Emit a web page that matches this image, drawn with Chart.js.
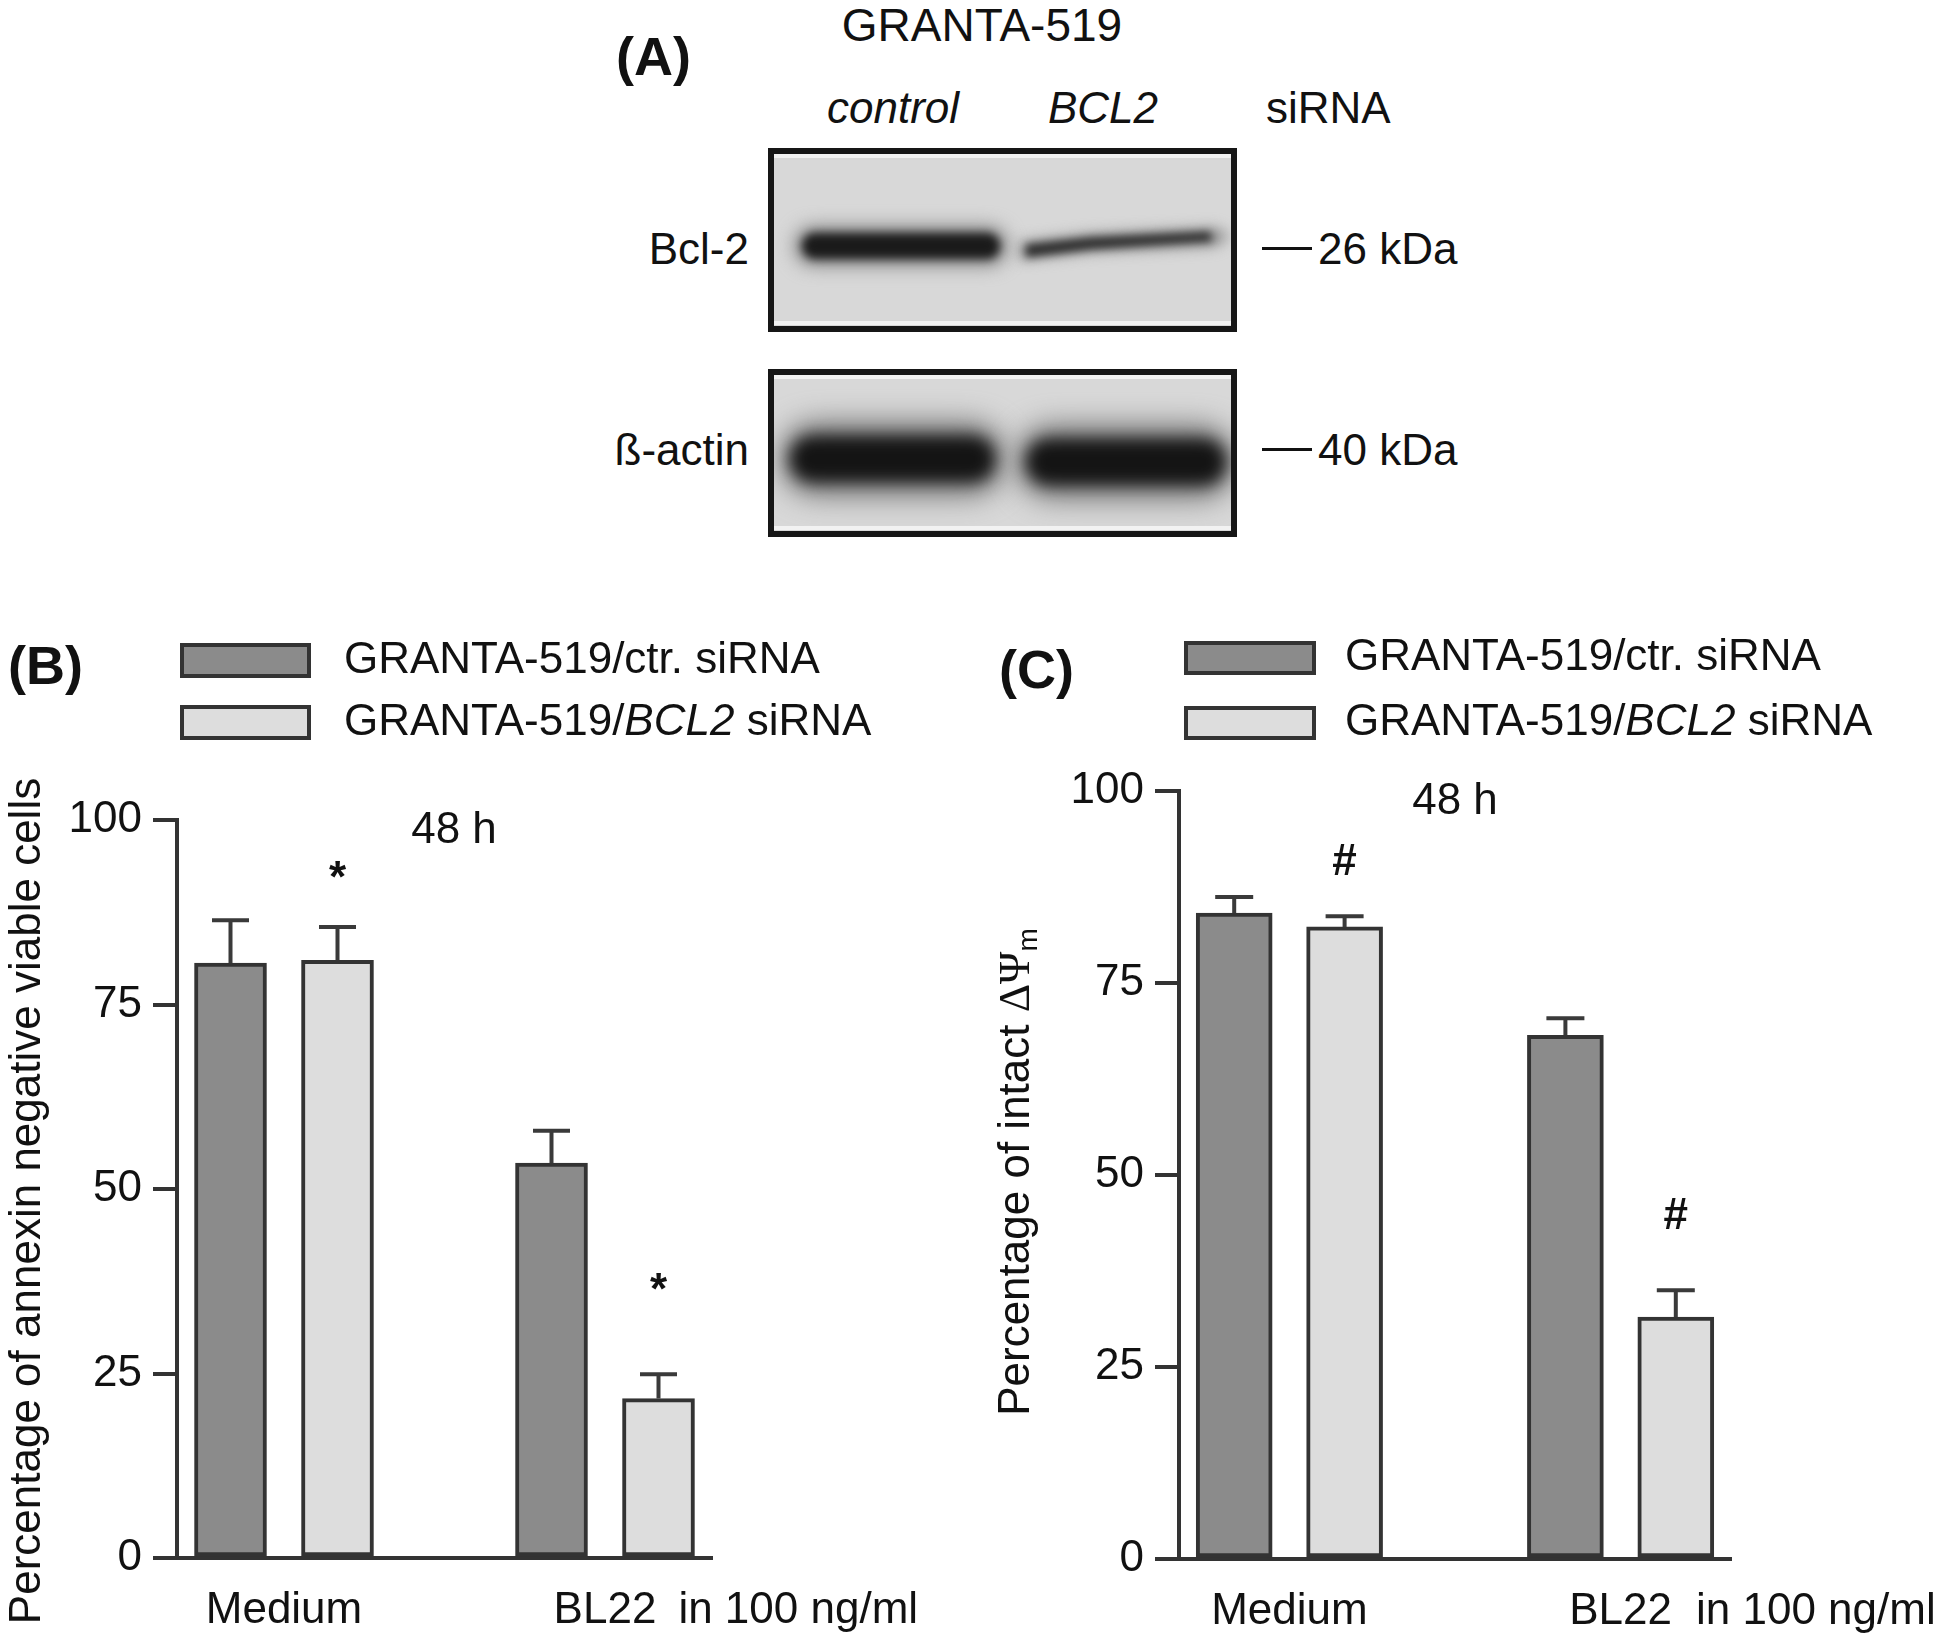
<!DOCTYPE html>
<html>
<head>
<meta charset="utf-8">
<script src="https://cdn.jsdelivr.net/npm/chart.js@4.4.1/dist/chart.umd.min.js"></script>
<style>
  html, body { margin: 0; padding: 0; background: #fff; }
  #page { position: relative; width: 1950px; height: 1637px; overflow: hidden;
          font-family: "Liberation Sans", Arial, sans-serif; color: #111; }
  .t { position: absolute; white-space: nowrap; line-height: 1; font-size: 44px;
       transform: translateY(-50%); }
  .c { transform: translate(-50%, -50%); }
  .r { transform: translate(-100%, -50%); }
  .i { font-style: italic; }
  .b { font-weight: bold; }
  .mk { position: absolute; height: 3px; background: #111; }
  canvas { position: absolute; }
</style>
</head>
<body>
<div id="page">
  <!-- (A) western blot -->
  <div class="t b" style="left:616px;top:56px;font-size:54px">(A)</div>
  <div class="t c" style="left:982px;top:25px;font-size:46px">GRANTA-519</div>
  <div class="t i" style="left:827px;top:108px">control</div>
  <div class="t i" style="left:1048px;top:108px">BCL2</div>
  <div class="t" style="left:1266px;top:108px">siRNA</div>
  <div class="t r" style="left:749px;top:249px">Bcl-2</div>
  <div class="t r" style="left:749px;top:450px">ß-actin</div>
  <div class="mk" style="left:1262px;top:247px;width:50px"></div>
  <div class="t" style="left:1318px;top:249px">26 kDa</div>
  <div class="mk" style="left:1262px;top:448px;width:50px"></div>
  <div class="t" style="left:1318px;top:450px">40 kDa</div>
  <canvas id="blot" width="490" height="405" style="left:760px;top:140px"></canvas>

  <!-- (B) and (C) -->
  <canvas id="chartB" width="975" height="1037" style="left:0;top:600px;width:975px;height:1037px"></canvas>
  <canvas id="chartC" width="975" height="1037" style="left:975px;top:600px;width:975px;height:1037px"></canvas>
</div>

<script>
// ---- data ----
const categories = ['Medium', 'BL22'];
const doseNote   = 'in 100 ng/ml';
const yTicks     = [0, 25, 50, 75, 100];
// legend labels, [text, italic] pieces
const seriesNames = [
  [['GRANTA-519/ctr. siRNA', false]],
  [['GRANTA-519/', false], ['BCL2', true], [' siRNA', false]]
];
const barColors = ['#8b8b8b', '#dddddd'];

// (B) annexin negative viable cells, 48 h
const annexinCtr     = [80.6, 53.5];
const annexinCtrErr  = [5.8, 4.4];
const annexinBcl2    = [81.0, 21.6];
const annexinBcl2Err = [4.5, 3.3];
const annexinMarks   = ['*', '*'];
const annexinMarkAt  = [91.9, 36.0];

// (C) intact mitochondrial potential, 48 h
const psiCtr     = [84.1, 68.2];
const psiCtrErr  = [2.1, 2.2];
const psiBcl2    = [82.3, 31.5];
const psiBcl2Err = [1.4, 3.5];
const psiMarks   = ['#', '#'];
const psiMarkAt  = [90.6, 44.5];

// ---- drawing ----
const SANS  = '"Liberation Sans", Arial, sans-serif';
const SERIF = '"Liberation Serif", "Times New Roman", serif';
const INK   = '#111';
const LINE  = '#333';
const W = 975, H = 1037;
const GROUP_STEP = 3, BAR_SHIFT = 0.5;   // bars sit half a slot either side of the group centre
const groupX = i => 1 + GROUP_STEP * i;

function drawRotated(ctx, segs, cx, cy) {
  ctx.save();
  ctx.translate(cx, cy);
  ctx.rotate(-Math.PI / 2);
  ctx.textBaseline = 'middle';
  ctx.textAlign = 'left';
  ctx.fillStyle = INK;
  let total = 0;
  segs.forEach(s => { ctx.font = s.font; s.w = ctx.measureText(s.text).width; total += s.w; });
  let x = -total / 2;
  segs.forEach(s => { ctx.font = s.font; ctx.fillText(s.text, x, s.dy || 0); x += s.w; });
  ctx.restore();
}

const decor = {
  id: 'decor',
  afterDatasetsDraw(chart, args, o) {
    const ctx = chart.ctx, ys = chart.scales.y;
    ctx.save();
    chart.data.datasets.forEach((ds, di) => {
      chart.getDatasetMeta(di).data.forEach((bar, i) => {
        const top = ys.getPixelForValue(ds.data[i].y + ds.errors[i]);
        ctx.strokeStyle = '#3a3a3a';
        ctx.lineWidth = 4;
        ctx.beginPath();
        ctx.moveTo(bar.x, bar.y);
        ctx.lineTo(bar.x, top);
        ctx.moveTo(bar.x - o.cap / 2, top);
        ctx.lineTo(bar.x + o.cap / 2, top);
        ctx.stroke();
        if (ds.marks && ds.marks[i]) {
          ctx.fillStyle = INK;
          ctx.font = 'bold 44px ' + SANS;
          ctx.textAlign = 'center';
          ctx.textBaseline = 'middle';
          ctx.fillText(ds.marks[i], bar.x, ys.getPixelForValue(ds.markAt[i]) + o.markDy);
        }
      });
    });
    ctx.restore();
  },
  afterDraw(chart, args, o) {
    const ctx = chart.ctx;
    ctx.save();
    ctx.fillStyle = INK;

    // panel letter
    ctx.font = 'bold 54px ' + SANS;
    ctx.textBaseline = 'middle';
    ctx.textAlign = 'left';
    ctx.fillText(o.letter, o.letterAt[0], o.letterAt[1]);

    // legend
    chart.data.datasets.forEach((ds, di) => {
      const L = o.legend, y = L.y[di];
      ctx.fillStyle = ds.backgroundColor;
      ctx.fillRect(L.x, y, L.w, L.h);
      ctx.strokeStyle = LINE;
      ctx.lineWidth = 4;
      ctx.strokeRect(L.x + 2, y + 2, L.w - 4, L.h - 4);
      let tx = L.textX;
      ctx.fillStyle = INK;
      seriesNames[di].forEach(([txt, it]) => {
        ctx.font = (it ? 'italic ' : '') + '44px ' + SANS;
        ctx.fillText(txt, tx, y + L.h / 2);
        tx += ctx.measureText(txt).width;
      });
    });

    // time point
    ctx.font = '44px ' + SANS;
    ctx.textAlign = 'center';
    ctx.fillText(o.time, o.timeAt[0], o.timeAt[1]);

    // dose note after the last category label
    const xs = chart.scales.x;
    const items = xs.getLabelItems();
    const last = items[items.length - 1];
    if (last) {
      ctx.font = '44px ' + SANS;
      const lw = ctx.measureText(categories[categories.length - 1]).width;
      ctx.textAlign = 'left';
      ctx.textBaseline = last.options.textBaseline;
      ctx.fillText(doseNote, last.options.translation[0] + lw / 2 + o.noteGap,
                   last.options.translation[1] + (last.textOffset || 0));
    }
    ctx.restore();

    drawRotated(ctx, o.title, o.titleAt[0], o.titleAt[1]);
  }
};

function makePanel(id, p) {
  const datasets = [
    { data: p.ctr.map((v, i) => ({ x: groupX(i) - BAR_SHIFT, y: v })), errors: p.ctrErr,
      backgroundColor: barColors[0] },
    { data: p.bcl2.map((v, i) => ({ x: groupX(i) + BAR_SHIFT, y: v })), errors: p.bcl2Err,
      marks: p.marks, markAt: p.markAt, backgroundColor: barColors[1] }
  ];
  const tickFont = { family: SANS, size: 44 };
  return new Chart(document.getElementById(id), {
    type: 'bar',
    data: { datasets },
    options: {
      responsive: false,
      animation: false,
      devicePixelRatio: 1,
      layout: { padding: { left: 0, top: p.area.top, right: W - p.area.right, bottom: 0 } },
      datasets: { bar: { grouped: false, barThickness: p.barW, borderWidth: 4,
                         borderColor: LINE, borderSkipped: false } },
      plugins: {
        legend: { display: false },
        tooltip: { enabled: false },
        decor: p.decor
      },
      scales: {
        x: {
          type: 'linear', min: 0, max: 5, offset: false, bounds: 'data', grace: 0,
          afterDataLimits: s => { s.min = 0; s.max = 5; },
          afterFit: s => { s.height = H - p.area.bottom; },
          afterBuildTicks: s => { s.ticks = categories.map((c, i) => ({ value: groupX(i) })); },
          grid: { display: false, offset: false },
          border: { display: true, width: 4, color: LINE },
          ticks: { callback: (v, i) => categories[i], font: tickFont, color: INK,
                   padding: 18, autoSkip: false, maxRotation: 0 }
        },
        y: {
          min: 0, max: 100,
          afterFit: s => { s.width = p.area.left; },
          afterBuildTicks: s => { s.ticks = yTicks.map(v => ({ value: v })); },
          grid: { drawOnChartArea: false, tickLength: 24, lineWidth: 4, color: LINE },
          border: { display: true, width: 4, color: LINE },
          ticks: { font: tickFont, color: INK, padding: 11 }
        }
      }
    },
    plugins: [decor]
  });
}

makePanel('chartB', {
  ctr: annexinCtr, ctrErr: annexinCtrErr, bcl2: annexinBcl2, bcl2Err: annexinBcl2Err,
  marks: annexinMarks, markAt: annexinMarkAt,
  area: { left: 177, top: 220, right: 712, bottom: 958 },
  barW: 72,
  decor: {
    cap: 37, markDy: 0,
    letter: '(B)', letterAt: [8, 69],
    legend: { x: 180, y: [43, 105], w: 131, h: 35, textX: 344 },
    time: '48 h', timeAt: [454, 231],
    noteGap: 22,
    title: [{ text: 'Percentage of annexin negative viable cells', font: '44px ' + SANS }],
    titleAt: [28, 601]
  }
});

makePanel('chartC', {
  ctr: psiCtr, ctrErr: psiCtrErr, bcl2: psiBcl2, bcl2Err: psiBcl2Err,
  marks: psiMarks, markAt: psiMarkAt,
  area: { left: 204, top: 191, right: 756, bottom: 959 },
  barW: 76,
  decor: {
    cap: 38, markDy: 0,
    letter: '(C)', letterAt: [24, 73],
    legend: { x: 209, y: [41, 106], w: 132, h: 34, textX: 370 },
    time: '48 h', timeAt: [480, 202],
    noteGap: 24,
    title: [
      { text: 'Percentage of intact ', font: '44px ' + SANS },
      { text: 'ΔΨ', font: '44px ' + SERIF },
      { text: 'm', font: '28px ' + SANS, dy: 12 }
    ],
    titleAt: [42, 572]
  }
});

// ---- blot picture for panel A ----
(function drawBlot() {
  const ctx = document.getElementById('blot').getContext('2d');
  function box(y0, y1, bands) {
    ctx.fillStyle = '#d8d8d8';
    ctx.fillRect(8, y0, 469, y1 - y0);
    ctx.save();
    ctx.beginPath();
    ctx.rect(14, y0 + 6, 457, y1 - y0 - 12);
    ctx.clip();
    bands();
    ctx.fillStyle = 'rgba(245,245,245,0.9)';
    ctx.fillRect(14, y0 + 6, 457, 4);
    ctx.fillRect(14, y1 - 11, 457, 4);
    ctx.restore();
    ctx.strokeStyle = '#161616';
    ctx.lineWidth = 6;
    ctx.strokeRect(11, y0 + 3, 463, y1 - y0 - 6);
  }
  function blob(x, y, w, h, r, color, blur) {
    ctx.save();
    ctx.filter = 'blur(' + blur + 'px)';
    ctx.fillStyle = color;
    ctx.beginPath();
    ctx.roundRect(x, y, w, h, r);
    ctx.fill();
    ctx.restore();
  }
  function poly(pts, color, blur) {
    ctx.save();
    ctx.filter = 'blur(' + blur + 'px)';
    ctx.fillStyle = color;
    ctx.beginPath();
    pts.forEach(([x, y], i) => i ? ctx.lineTo(x, y) : ctx.moveTo(x, y));
    ctx.closePath();
    ctx.fill();
    ctx.restore();
  }
  box(8, 192, () => {
    blob(34, 86, 214, 40, 20, '#888', 9);
    blob(42, 93, 198, 26, 13, '#1a1a1a', 5);
    poly([[260, 102], [330, 94], [455, 88], [470, 96], [455, 106], [330, 112], [260, 120]], '#888', 7);
    poly([[266, 105], [330, 98], [450, 92], [452, 101], [330, 109], [266, 117]], '#2a2a2a', 4);
  });
  box(229, 397, () => {
    blob(20, 282, 226, 74, 37, '#777', 14);
    blob(30, 296, 205, 46, 23, '#141414', 8);
    blob(256, 285, 220, 74, 37, '#777', 14);
    blob(266, 299, 200, 46, 23, '#141414', 8);
  });
})();
</script>
</body>
</html>
